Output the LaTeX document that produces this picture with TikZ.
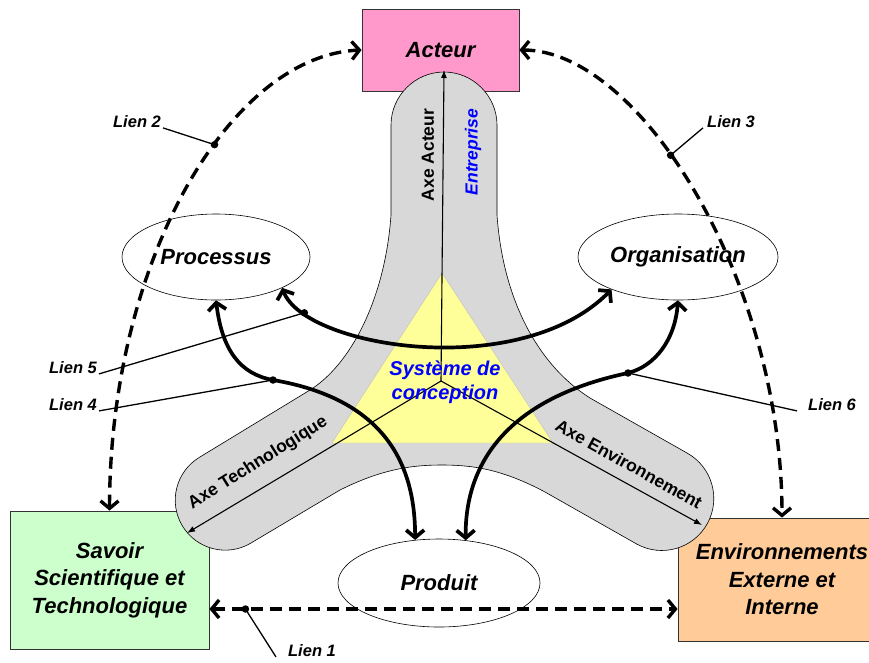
\documentclass[tikz,border=0pt]{standalone}
\usepackage{fontspec}
\setmainfont{Liberation Sans}
\usetikzlibrary{shapes.geometric,arrows.meta}
\definecolor{pinkbox}{HTML}{FF99CC}
\definecolor{greenbox}{HTML}{CCFFCC}
\definecolor{orangebox}{HTML}{FFCC99}
\definecolor{axisgrey}{HTML}{D8D8D8}
\definecolor{triyellow}{HTML}{FFFF99}
\definecolor{sysblue}{HTML}{0000FF}
\begin{document}
\begin{tikzpicture}[x=1pt,y=-1pt,
  bigtxt/.style={font=\fontsize{22}{27.5}\selectfont\bfseries\itshape, align=center},
  boxnode/.style={draw=black!80, line width=0.8pt, inner sep=0pt},
  ell/.style={ellipse, draw, line width=0.6pt, fill=white, inner sep=0pt, bigtxt},
  axisarrow/.style={line width=1.1pt, -{Latex[length=8pt,width=6pt]}},
  dlink/.style={line width=3.4pt, dash pattern=on 12pt off 7pt, {Straight Barb[length=7.5pt,width=18pt]}-{Straight Barb[length=7.5pt,width=18pt]}},
  slink/.style={line width=3.7pt, {Straight Barb[length=7.5pt,width=18pt]}-{Straight Barb[length=7.5pt,width=18pt]}},
  leader/.style={line width=1.3pt},
  dotmark/.style={circle, fill=black, inner sep=0pt, minimum size=7.5pt},
  lienlbl/.style={font=\fontsize{16.5}{20}\selectfont\bfseries\itshape, inner sep=0pt},
  axelbl/.style={font=\fontsize{17.5}{21}\selectfont\bfseries, inner sep=0pt},
]
\useasboundingbox (0,0) rectangle (869,662);
\clip (0,0) rectangle (869,662);

% boxes
\node[boxnode, fill=pinkbox, minimum width=157pt, minimum height=82pt, bigtxt] (act) at (440.5,50) {Acteur};
\node[boxnode, fill=greenbox, minimum width=199pt, minimum height=138pt, bigtxt] (sav) at (109.5,580) {Savoir\\Scientifique et\\Technologique};
\node[boxnode, fill=orangebox, minimum width=208pt, minimum height=123pt, bigtxt] (env) at (782,579.5) {Environnements\\Externe et\\Interne};

% grey Y shape
\path[fill=axisgrey, draw=black, line width=0.6pt]
  (391,125) .. controls (391,96) and (415,72) .. (444,72)
  .. controls (473,72) and (497,96) .. (497,125)
  -- (497,215) .. controls (503,300) and (538,365) .. (590,398)
  -- (687,453) arc[start angle=61, end angle=-119, radius=52pt]
  -- (545,492) .. controls (500,468) and (470,465) .. (441,465)
  .. controls (410,465) and (380,470) .. (340,490)
  -- (251,543) arc[start angle=-59, end angle=-239, radius=50pt]
  -- (310,390) .. controls (350,365) and (385,300) .. (391,215) -- cycle;

% yellow triangle
\path[fill=triyellow, draw=black!25, line width=0.4pt] (442,273) -- (332,443) -- (553,443) -- cycle;

% axes
\coordinate (ctr) at (441,381);
\coordinate (axA) at (444,70);
\coordinate (axT) at (187,533);
\coordinate (axE) at (702,525);
\draw[axisarrow] (ctr) -- (axA);
\draw[axisarrow] (ctr) -- (axT);
\draw[axisarrow] (ctr) -- (axE);

\node[axelbl, rotate=90] (lblA) at (428,155) {Axe Acteur};
\node[font=\fontsize{17.5}{21}\selectfont\bfseries\itshape, text=sysblue, rotate=90, inner sep=0pt] (lblEnt) at (473,152) {Entreprise};
\node[axelbl, rotate=32] (lblT) at (258,463) {Axe Technologique};
\node[axelbl, rotate=-29] (lblEv) at (629,464) {Axe Environnement};
\node[font=\fontsize{20}{23.5}\selectfont\bfseries\itshape, text=sysblue, align=center, inner sep=0pt] (sys) at (445,382) {Système de\\conception};

% ellipses
\node[ell, minimum width=188pt, minimum height=86pt] (proc) at (216,257) {Processus};
\node[ell, minimum width=200pt, minimum height=86pt] (org) at (678,257) {Organisation};
\node[ell, minimum width=202pt, minimum height=88pt] (prod) at (439,583) {Produit};

% dashed links
\draw[dlink] (sav.north) .. controls (110,260) and (230,56) .. node[dotmark, pos=0.595] (d2) {} (act.west);
\draw[dlink] (act.east) .. controls (640,50) and (782,280) .. node[dotmark, pos=0.42] (d3) {} (env.north);
\draw[dlink] ([yshift=-29pt]sav.east) -- node[dotmark, pos=0.077] (d1) {} ([yshift=-29.5pt]env.west);

% solid links
\draw[slink] (proc.-25) .. controls (305,348) and (520,382) .. node[dotmark, pos=0.15] (d5) {} (org.206);
\node[dotmark] (d4) at (273,380) {};
\draw[slink] (proc.south) .. controls (222,350) and (240,374) .. (d4.center)
  .. controls (390,400) and (415,470) .. (prod.119);
\node[dotmark] (d6) at (628,373) {};
\draw[slink] (org.south) .. controls (675,340) and (655,366) .. (d6.center)
  .. controls (500,400) and (465,470) .. (prod.58);

% labels
\node[lienlbl] (l1) at (312,651) {Lien 1};
\node[lienlbl] (l2) at (137,122) {Lien 2};
\node[lienlbl] (l3) at (731,122) {Lien 3};
\node[lienlbl] (l4) at (73,405) {Lien 4};
\node[lienlbl] (l5) at (73,368) {Lien 5};
\node[lienlbl] (l6) at (832,405) {Lien 6};

% leaders
\draw[leader] ([xshift=-12pt]l1.base west) -- (d1.center);
\draw[leader] ([xshift=2pt]l2.base east) -- (d2.center);
\draw[leader] ([xshift=-4pt]l3.base west) -- (d3.center);
\draw[leader] ([xshift=2pt]l4.base east) -- (d4.center);
\draw[leader] ([xshift=2pt]l5.base east) -- (d5.center);
\draw[leader] ([xshift=-11pt]l6.base west) -- (d6.center);
\end{tikzpicture}
\end{document}
